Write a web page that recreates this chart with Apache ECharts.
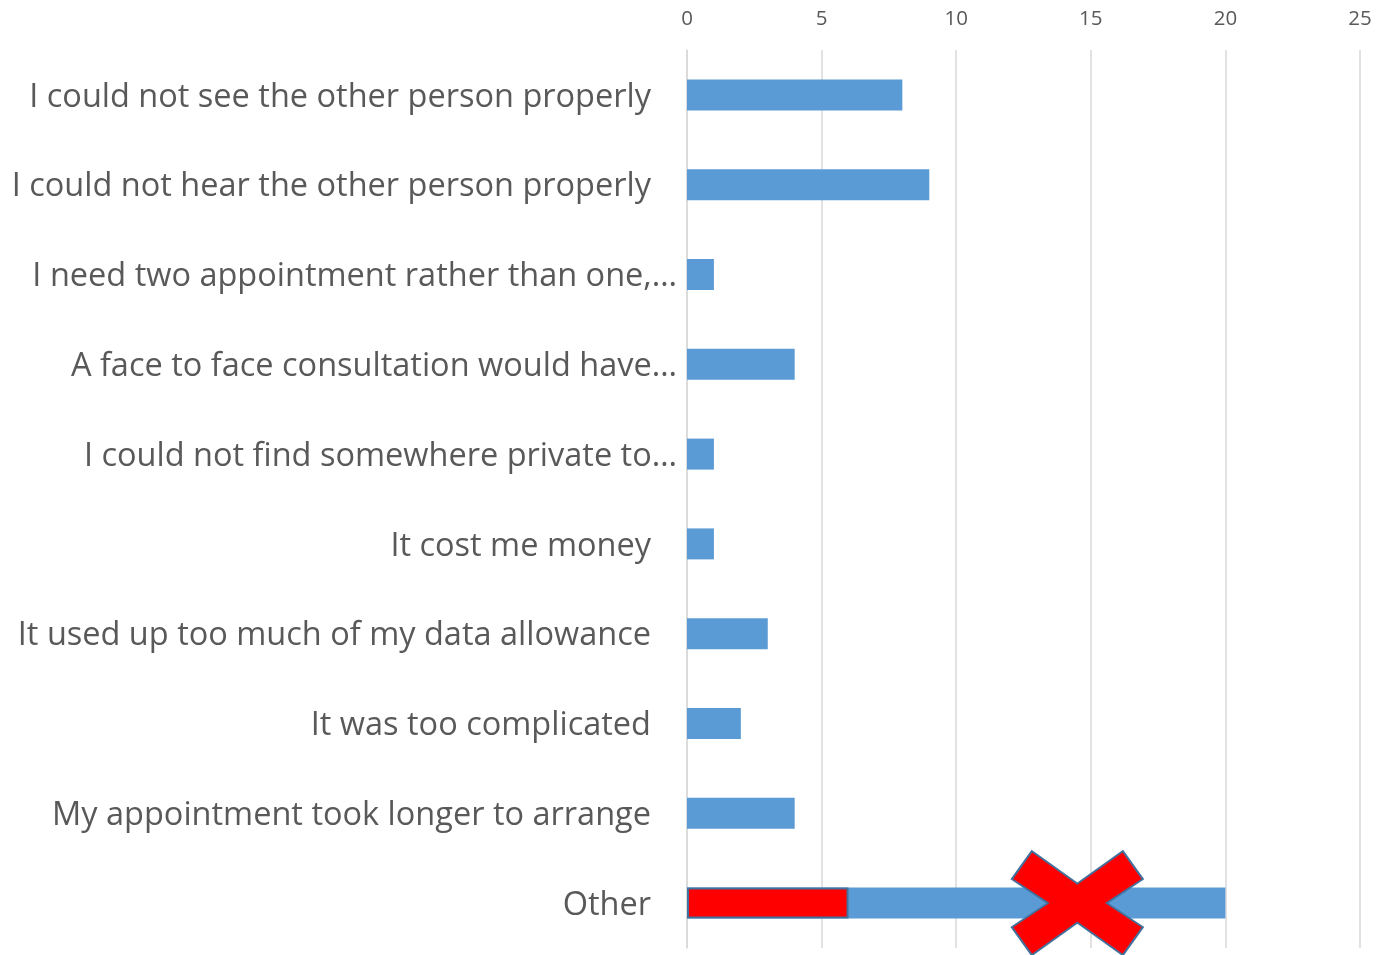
<!DOCTYPE html>
<html>
<head>
<meta charset="utf-8">
<script src="https://cdn.jsdelivr.net/npm/echarts@6/dist/echarts.min.js"></script>
<style>html,body{margin:0;padding:0;background:#fff}#c{width:1378px;height:955px}</style>
</head>
<body>
<div id="c"></div>
<script>
const categories = [
  "I could not see the other person properly",
  "I could not hear the other person properly",
  "I need two appointment rather than one,…",
  "A face to face consultation would have…",
  "I could not find somewhere private to…",
  "It cost me money",
  "It used up too much of my data allowance",
  "It was too complicated",
  "My appointment took longer to arrange",
  "Other"
];
const values = [8, 9, 1, 4, 1, 1, 3, 2, 4, 20];
const highlightValues = [null, null, null, null, null, null, null, null, null, 6];
const crossMark = [[14.5, "Other"]];
const xTicks = { min: 0, max: 25, interval: 5 };

const crossPath = 'path://M20,0 L65.5,32.5 L111,0 L131,28 L95,52 L131,76 L111,104 L65.5,71.5 L20,104 L0,76 L36,52 L0,28 Z';
const FONT = '"Open Sans", Lato, sans-serif';
const LSIZE = 32.5;

const chart = echarts.init(document.getElementById('c'), null, { renderer: 'canvas' });
chart.setOption({
  animation: false,
  backgroundColor: '#ffffff',
  grid: { left: 687, right: 18, top: 50, bottom: 7, containLabel: false },
  xAxis: {
    type: 'value',
    position: 'top',
    min: xTicks.min, max: xTicks.max, interval: xTicks.interval,
    axisLine: { show: false },
    axisTick: { show: false },
    axisLabel: { color: '#595959', fontSize: 20.5, fontFamily: FONT, margin: 20 },
    splitLine: { show: true, lineStyle: { color: '#d9d9d9', width: 1.5 } }
  },
  yAxis: {
    type: 'category',
    data: categories,
    inverse: true,
    axisLine: { show: true, lineStyle: { color: '#d9d9d9', width: 1.5 } },
    axisTick: { show: false },
    axisLabel: {
      margin: 10,
      color: '#595959',
      fontSize: LSIZE,
      fontFamily: FONT,
      formatter: function (v) {
        return v.endsWith('…') ? '{t|' + v + '}' : '{f|' + v + '}';
      },
      rich: {
        t: { color: '#595959', fontSize: LSIZE, fontFamily: FONT, padding: [5, 0, 0, 0] },
        f: { color: '#595959', fontSize: LSIZE, fontFamily: FONT, padding: [5, 26, 0, 0] }
      }
    }
  },
  series: [
    {
      type: 'bar',
      data: values,
      barWidth: 31,
      itemStyle: { color: '#5b9bd5' },
      z: 2
    },
    {
      type: 'bar',
      data: highlightValues,
      barWidth: 31,
      barGap: '-100%',
      itemStyle: { color: '#ff0000', borderColor: '#41719c', borderWidth: 2 },
      z: 3
    },
    {
      type: 'scatter',
      data: crossMark,
      symbol: crossPath,
      symbolSize: [131, 104],
      itemStyle: { color: '#ff0000', borderColor: '#41719c', borderWidth: 2, opacity: 1 },
      z: 4
    }
  ]
});
</script>
</body>
</html>
